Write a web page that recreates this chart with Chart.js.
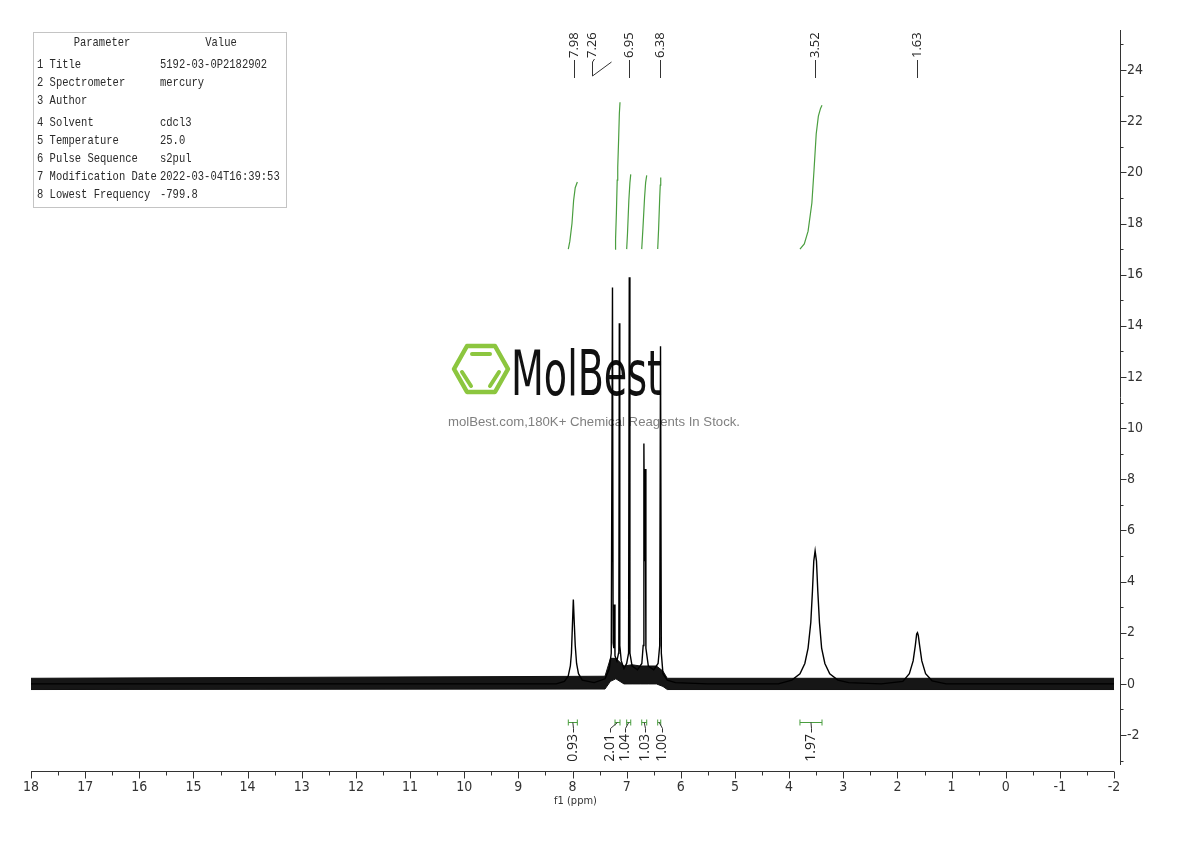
<!DOCTYPE html>
<html>
<head>
<meta charset="utf-8">
<script src="https://cdn.jsdelivr.net/npm/chart.js@4/dist/chart.umd.min.js"></script>
<style>
  html, body { margin: 0; background: #fff; }
  canvas { display: block; }
</style>
</head>
<body>
<canvas id="nmr" width="1190" height="841"></canvas>
<script>
// spectrum trace (ppm, intensity)
const specPpm = [18, 8.30, 8.15, 8.08, 8.04, 8.02, 8.00, 7.985, 7.97, 7.95, 7.925, 7.89, 7.82, 7.60,
  7.40, 7.32, 7.285, 7.262, 7.25, 7.238, 7.228, 7.216, 7.18, 7.15, 7.145, 7.136, 7.127, 7.10, 7.05, 7.00,
  6.965, 6.952, 6.94, 6.90, 6.80, 6.72, 6.695, 6.682, 6.670, 6.657, 6.645, 6.60, 6.50, 6.42, 6.39,
  6.375, 6.36, 6.33, 6.25, 6.10, 5.50, 4.20, 3.95, 3.80, 3.71, 3.65, 3.60, 3.57, 3.545, 3.52, 3.495,
  3.47, 3.44, 3.40, 3.34, 3.25, 3.10, 2.90, 2.30, 1.90, 1.78, 1.71, 1.67, 1.645, 1.63, 1.615, 1.59,
  1.55, 1.48, 1.36, 1.10, -2];
const specInt = [0, 0, 0.1, 0.3, 0.7, 1.2, 2.4, 3.3, 2.5, 1.5, 0.8, 0.4, 0.15, 0.05,
  0.2, 0.6, 1.2, 15.5, 1.6, 1.4, 3.1, 1.1, 0.9, 1.2, 1.4, 14.1, 1.5, 0.9, 0.6, 0.8,
  1.2, 15.9, 1.2, 0.7, 0.55, 0.8, 1.5, 9.4, 4.8, 8.4, 1.4, 0.7, 0.55, 0.8, 1.5,
  13.2, 1.2, 0.4, 0.15, 0.05, 0, 0, 0.15, 0.4, 0.8, 1.4, 2.4, 3.6, 4.8, 5.2, 4.8,
  3.6, 2.4, 1.4, 0.8, 0.4, 0.15, 0.05, 0, 0.1, 0.4, 0.9, 1.5, 1.95, 2.0, 1.9, 1.5,
  0.9, 0.4, 0.12, 0, 0];

// envelope of the baseline noise
const noisePpm = [18, 7.40, 7.30, 7.20, 7.05, 6.90, 6.75, 6.60, 6.45, 6.33, 6.25, -2];
const noiseHigh = [0.22, 0.3, 1.0, 1.0, 0.7, 0.75, 0.7, 0.7, 0.7, 0.5, 0.22, 0.22];
const noiseLow = [-0.22, -0.2, 0.1, 0.2, 0.0, 0.0, 0.0, 0.0, 0.0, -0.1, -0.22, -0.22];

// integral curves
const integralCurvePpm = [
  [8.078, 8.05, 8.01, 7.98, 7.95, 7.911],
  [7.215, 7.205, 7.19, 7.175, 7.165, 7.15, 7.135, 7.123],
  [7.00, 6.985, 6.96, 6.94, 6.925],
  [6.722, 6.70, 6.67, 6.65, 6.63],
  [6.427, 6.41, 6.39, 6.38, 6.371],
  [3.80, 3.72, 3.65, 3.58, 3.54, 3.50, 3.46, 3.42, 3.393]
];
const integralCurveVal = [
  [17.0, 17.3, 18.0, 18.9, 19.4, 19.62],
  [17.0, 17.4, 18.4, 19.7, 20.2, 21.2, 22.3, 22.74],
  [17.0, 17.6, 18.9, 19.6, 19.92],
  [17.0, 17.8, 19.0, 19.6, 19.88],
  [17.0, 17.8, 19.0, 19.5, 19.80],
  [17.0, 17.2, 17.7, 18.8, 20.1, 21.5, 22.2, 22.5, 22.62]
];
const integralLabels = ['0.93', '2.01', '1.04', '1.03', '1.00', '1.97'];
const integralFrom = [8.078, 7.215, 7.00, 6.722, 6.427, 3.80];
const integralTo = [7.911, 7.123, 6.925, 6.63, 6.371, 3.393];

const peakLabels = ['7.98', '7.26', '6.95', '6.38', '3.52', '1.63'];
const peakPpm = [7.98, 7.26, 6.95, 6.38, 3.52, 1.63];

const paramNames = ['Title', 'Spectrometer', 'Author', 'Solvent', 'Temperature', 'Pulse Sequence',
  'Modification Date', 'Lowest Frequency'];
const paramValues = ['5192-03-0P2182902', 'mercury', '', 'cdcl3', '25.0', 's2pul',
  '2022-03-04T16:39:53', '-799.8'];

const GREEN = '#4a9e3f';
const tickFont = "'Liberation Sans Narrow', 'DejaVu Sans Condensed', sans-serif";

function pts(xs, ys) {
  return xs.map((v, i) => ({ x: v, y: ys[i] }));
}

function drawWatermark(ctx) {
  ctx.save();
  ctx.strokeStyle = '#8cc63f';
  ctx.lineWidth = 4.5;
  ctx.lineJoin = 'round';
  ctx.lineCap = 'round';
  ctx.beginPath();
  ctx.moveTo(454, 369);
  ctx.lineTo(467, 346);
  ctx.lineTo(495, 346);
  ctx.lineTo(508, 369);
  ctx.lineTo(495, 392);
  ctx.lineTo(467, 392);
  ctx.closePath();
  ctx.stroke();
  ctx.lineWidth = 4;
  ctx.beginPath();
  ctx.moveTo(472, 354); ctx.lineTo(490, 354);
  ctx.moveTo(462, 372); ctx.lineTo(471, 386);
  ctx.moveTo(499, 372); ctx.lineTo(490, 386);
  ctx.stroke();

  ctx.fillStyle = '#111';
  ctx.font = "62px 'DejaVu Sans Condensed'";
  const w = ctx.measureText('MolBest').width;
  ctx.save();
  ctx.translate(511, 395);
  ctx.scale(151 / w, 1);
  ctx.fillText('MolBest', 0, 0);
  ctx.restore();

  ctx.fillStyle = '#808080';
  ctx.font = "13px 'Liberation Sans'";
  const sub = 'molBest.com,180K+ Chemical Reagents In Stock.';
  const sw = ctx.measureText(sub).width;
  ctx.translate(448, 426);
  ctx.scale(292 / sw, 1);
  ctx.fillText(sub, 0, 0);
  ctx.restore();
}

const decor = {
  id: 'decor',
  beforeDatasetsDraw(chart) {
    drawWatermark(chart.ctx);
  },
  afterDraw(chart) {
    const { ctx, chartArea, scales: { x, y } } = chart;
    ctx.save();

    // axes
    ctx.strokeStyle = '#333';
    ctx.lineWidth = 1;
    const axY = chartArea.bottom + 0.5;
    const x0 = x.getPixelForValue(18), x1 = x.getPixelForValue(-2);
    ctx.beginPath();
    ctx.moveTo(x0, axY); ctx.lineTo(x1, axY);
    for (let v = 18; v >= -2; v -= 0.5) {
      const px = Math.round(x.getPixelForValue(v)) + 0.5;
      ctx.moveTo(px, axY);
      ctx.lineTo(px, axY + (Number.isInteger(v) ? 7 : 4));
    }
    const axX = chartArea.right + 0.5;
    ctx.moveTo(axX, chartArea.top);
    ctx.lineTo(axX, chartArea.bottom - 6);
    for (let v = -3; v <= 25; v += 1) {
      const py = Math.round(y.getPixelForValue(v)) + 0.5;
      ctx.moveTo(axX, py);
      ctx.lineTo(axX + (v % 2 === 0 ? 6 : 3), py);
    }
    ctx.stroke();

    // peak labels
    const peakShift = [0, -21, 0, 0, 0, 0];
    ctx.font = "13px 'Open Sans'";
    ctx.fillStyle = '#222';
    ctx.strokeStyle = '#333';
    peakLabels.forEach((t, i) => {
      const px = Math.round(x.getPixelForValue(peakPpm[i])) + 0.5;
      const lx = px + peakShift[i];
      ctx.save();
      ctx.translate(lx, 58);
      ctx.rotate(-Math.PI / 2);
      ctx.textAlign = 'left';
      ctx.textBaseline = 'middle';
      ctx.fillText(t, 0, 0);
      ctx.restore();
      ctx.beginPath();
      if (lx === px) {
        ctx.moveTo(px, 60); ctx.lineTo(px, 78);
      } else {
        ctx.moveTo(lx + 2, 59); ctx.lineTo(lx, 62); ctx.lineTo(lx, 76); ctx.lineTo(px - 2, 62);
      }
      ctx.stroke();
    });

    // integral brackets + values
    const intShift = [0, -8, -4, 1, 3, 0];
    const by = 722.5;
    ctx.font = "14px 'Open Sans'";
    integralLabels.forEach((t, i) => {
      const a = x.getPixelForValue(integralFrom[i]);
      const b = x.getPixelForValue(integralTo[i]);
      const bc = (a + b) / 2;
      const lx = Math.round(bc + intShift[i]) + 0.5;
      ctx.strokeStyle = GREEN;
      ctx.beginPath();
      ctx.moveTo(a, by); ctx.lineTo(b, by);
      ctx.moveTo(a, by - 3); ctx.lineTo(a, by + 3);
      ctx.moveTo(b, by - 3); ctx.lineTo(b, by + 3);
      ctx.stroke();
      ctx.strokeStyle = '#333';
      ctx.beginPath();
      ctx.moveTo(bc, by);
      ctx.lineTo(lx, by + 6);
      ctx.lineTo(lx, by + 10);
      ctx.stroke();
      ctx.save();
      ctx.translate(lx, 734);
      ctx.rotate(-Math.PI / 2);
      ctx.textAlign = 'right';
      ctx.textBaseline = 'middle';
      ctx.fillText(t, 0, 0);
      ctx.restore();
    });

    // parameter table
    ctx.strokeStyle = '#c4c4c4';
    ctx.strokeRect(33.5, 32.5, 253, 175);
    ctx.fillStyle = '#2a2a2a';
    ctx.font = "10.5px 'Liberation Mono'";
    ctx.textBaseline = 'middle';
    const cell = (txt, cx, cy, align) => {
      ctx.save();
      ctx.translate(cx, cy);
      ctx.scale(1, 1.2);
      ctx.textAlign = align;
      ctx.fillText(txt, 0, 0);
      ctx.restore();
    };
    cell('Parameter', 102, 43, 'center');
    cell('Value', 221, 43, 'center');
    const rowY = [65, 83, 101, 123, 141, 159, 177, 195];
    paramNames.forEach((n, i) => {
      cell((i + 1) + ' ' + n, 37, rowY[i], 'left');
      cell(paramValues[i], 160, rowY[i], 'left');
    });

    ctx.restore();
  }
};

const datasets = [{
  data: pts(specPpm, specInt),
  borderColor: '#000',
  borderWidth: 1.4
}];
integralCurvePpm.forEach((xs, i) => {
  datasets.push({
    data: pts(xs, integralCurveVal[i]),
    borderColor: GREEN,
    borderWidth: 1.2
  });
});
datasets.push({
  data: pts(noisePpm, noiseHigh),
  borderColor: '#111',
  borderWidth: 1
});
datasets.push({
  data: pts(noisePpm, noiseLow),
  borderColor: '#111',
  borderWidth: 1,
  fill: '-1',
  backgroundColor: '#161616'
});

new Chart(document.getElementById('nmr'), {
  type: 'line',
  data: { datasets },
  options: {
    responsive: false,
    animation: false,
    devicePixelRatio: 1,
    events: [],
    layout: { padding: { left: 31, top: 30, right: 0, bottom: 0 } },
    elements: { point: { radius: 0 }, line: { tension: 0 } },
    plugins: { legend: { display: false }, tooltip: { enabled: false } },
    scales: {
      x: {
        type: 'linear',
        reverse: true,
        min: -2.11,
        max: 18,
        grid: { display: false, drawTicks: false },
        border: { display: false },
        ticks: {
          stepSize: 1,
          includeBounds: false,
          autoSkip: false,
          maxRotation: 0,
          padding: 8,
          color: '#333',
          font: { family: tickFont, size: 14 }
        },
        title: {
          display: true,
          text: 'f1 (ppm)',
          color: '#333',
          font: { family: tickFont, size: 11 },
          padding: { top: 0, bottom: 33 }
        },
        afterFit: (s) => { s.height = 70; s.paddingLeft = 0; s.paddingRight = 0; }
      },
      y: {
        type: 'linear',
        position: 'right',
        min: -3.405,
        max: 25.566,
        grid: { display: false, drawTicks: false },
        border: { display: false },
        ticks: {
          stepSize: 2,
          includeBounds: false,
          padding: 7,
          color: '#333',
          font: { family: tickFont, size: 14 }
        },
        afterFit: (s) => { s.width = 70; s.paddingTop = 0; s.paddingBottom = 0; }
      }
    }
  },
  plugins: [decor]
});
</script>
</body>
</html>
